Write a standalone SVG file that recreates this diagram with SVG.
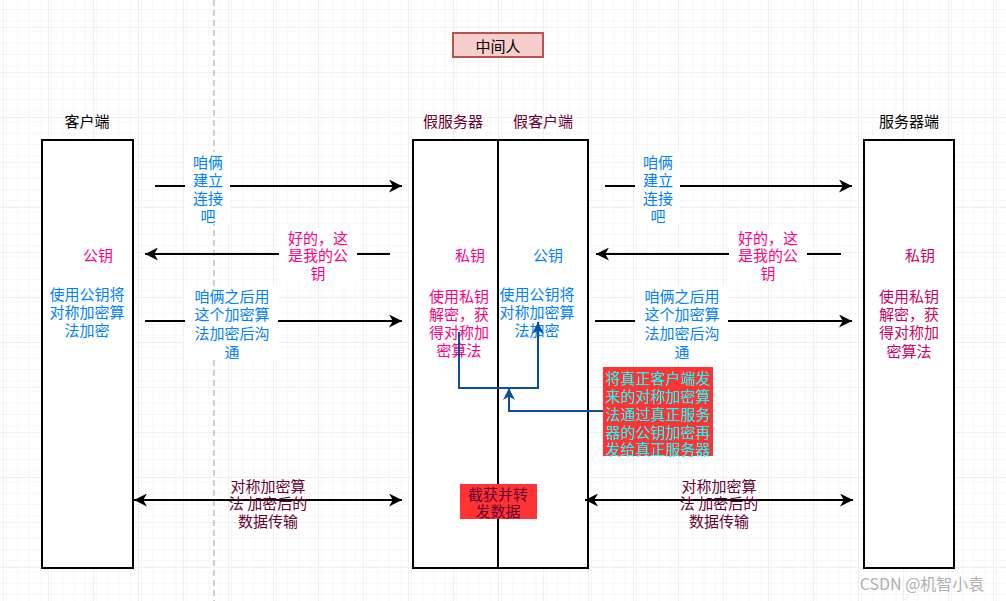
<svg xmlns="http://www.w3.org/2000/svg" width="1006" height="601" viewBox="0 0 1006 601">
<defs>
<pattern id="minor" x="3" y="27" width="11.25" height="11.25" patternUnits="userSpaceOnUse">
<path d="M0,0 H11.25 M0,0 V11.25" fill="none" stroke="#f0f0f0" stroke-width="1"/>
</pattern>
<pattern id="major" x="3" y="27" width="45" height="45" patternUnits="userSpaceOnUse">
<rect width="45" height="45" fill="url(#minor)"/>
<path d="M0,0 H45 M0,0 V45" fill="none" stroke="#e0e0e0" stroke-width="1"/>
</pattern>
<marker id="ah" viewBox="0 0 12 12" refX="12" refY="6" markerWidth="13" markerHeight="13" markerUnits="userSpaceOnUse" orient="auto-start-reverse">
<path d="M0,0 L12,6 L0,12 L3.5,6 Z" fill="#000"/>
</marker>
<marker id="bh" viewBox="0 0 12 12" refX="12" refY="6" markerWidth="12" markerHeight="12" markerUnits="userSpaceOnUse" orient="auto">
<path d="M0,0 L12,6 L0,12 L3.5,6 Z" fill="#0b4f9c"/>
</marker>
</defs>
<style>
text{font-family:"Noto Sans CJK SC","Noto Sans",sans-serif;font-size:15px;text-anchor:middle;dominant-baseline:central}
.box{fill:#fff;stroke:#000;stroke-width:2}
.blk{fill:#000}
.blue{fill:#007fff}
.pink{fill:#ff0080}
.pink2{fill:#cc0066}
.mar{fill:#660033}
.cyan{fill:#00ffff}
.edge{fill:none;stroke:#000;stroke-width:2}
.bedge{fill:none;stroke:#0b4f9c;stroke-width:2}
.lbg{fill:#fff}
</style>
<rect width="1006" height="601" fill="#fff"/>
<rect width="1006" height="601" fill="url(#major)"/>
<line x1="214" y1="0" x2="214" y2="601" stroke="#cfcfcf" stroke-width="2" stroke-dasharray="6,4"/>

<g id="middleman">
<rect x="453" y="33" width="90" height="24" fill="#f8cecc" stroke="#b85450" stroke-width="2"/>
<text x="498" y="45" class="blk">中间人</text>
</g>

<g id="client">
<text x="87" y="120" class="blk">客户端</text>
<rect x="42" y="140" width="91" height="428" class="box"/>
<text x="98" y="254" class="pink">公钥</text>
<text class="blue"><tspan x="87" y="293">使用公钥将</tspan><tspan x="87" y="311">对称加密算</tspan><tspan x="87" y="329">法加密</tspan></text>
</g>

<g id="fakeServer">
<text x="453" y="120" class="mar">假服务器</text>
<rect x="413" y="140" width="85" height="428" class="box"/>
<text x="470" y="254" class="pink">私钥</text>
<text class="pink"><tspan x="459" y="295">使用私钥</tspan><tspan x="459" y="313">解密，获</tspan><tspan x="459" y="331">得对称加</tspan><tspan x="459" y="349">密算法</tspan></text>
</g>

<g id="fakeClient">
<text x="543" y="120" class="mar">假客户端</text>
<rect x="498" y="140" width="90" height="428" class="box"/>
<text x="548" y="254" class="blue">公钥</text>
<text class="blue"><tspan x="537" y="293">使用公钥将</tspan><tspan x="537" y="311">对称加密算</tspan><tspan x="537" y="329">法加密</tspan></text>
</g>

<g id="server">
<text x="909" y="120" class="blk">服务器端</text>
<rect x="864" y="140" width="90" height="428" class="box"/>
<text x="920" y="254" class="pink2">私钥</text>
<text class="pink2"><tspan x="909" y="295">使用私钥</tspan><tspan x="909" y="313">解密，获</tspan><tspan x="909" y="331">得对称加</tspan><tspan x="909" y="350">密算法</tspan></text>
</g>

<g id="note">
<rect x="603" y="367" width="110" height="89" fill="#ff3333"/>
<text class="cyan"><tspan x="658" y="377">将真正客户端发</tspan><tspan x="658" y="395">来的对称加密算</tspan><tspan x="658" y="413">法通过真正服务</tspan><tspan x="658" y="431">器的公钥加密再</tspan><tspan x="658" y="448">发给真正服务器</tspan></text>
</g>

<g id="intercept">
<rect x="460" y="484" width="77" height="35" fill="#ff3333"/>
<text class="mar"><tspan x="498" y="493">截获并转</tspan><tspan x="498" y="510">发数据</tspan></text>
</g>

<g id="connectors">
<!-- handshake -->
<line x1="155" y1="186" x2="402" y2="186" class="edge" marker-end="url(#ah)"/>
<rect x="185" y="152" width="45" height="72" class="lbg"/>
<text class="blue"><tspan x="208" y="161">咱俩</tspan><tspan x="208" y="179">建立</tspan><tspan x="208" y="197">连接</tspan><tspan x="208" y="215">吧</tspan></text>

<line x1="605" y1="186" x2="852" y2="186" class="edge" marker-end="url(#ah)"/>
<rect x="635" y="152" width="45" height="72" class="lbg"/>
<text class="blue"><tspan x="658" y="161">咱俩</tspan><tspan x="658" y="179">建立</tspan><tspan x="658" y="197">连接</tspan><tspan x="658" y="215">吧</tspan></text>

<!-- public key -->
<line x1="390" y1="254" x2="145" y2="254" class="edge" marker-end="url(#ah)"/>
<rect x="279" y="228" width="78" height="54" class="lbg"/>
<text class="pink"><tspan x="318" y="237">好的，这</tspan><tspan x="318" y="254">是我的公</tspan><tspan x="318" y="272">钥</tspan></text>

<line x1="841" y1="254" x2="596" y2="254" class="edge" marker-end="url(#ah)"/>
<rect x="729" y="228" width="78" height="54" class="lbg"/>
<text class="pink"><tspan x="768" y="237">好的，这</tspan><tspan x="768" y="254">是我的公</tspan><tspan x="768" y="272">钥</tspan></text>

<!-- symmetric key -->
<line x1="145" y1="321" x2="402" y2="321" class="edge" marker-end="url(#ah)"/>
<rect x="185" y="286" width="93" height="74" class="lbg"/>
<text class="blue"><tspan x="232" y="295">咱俩之后用</tspan><tspan x="232" y="313">这个加密算</tspan><tspan x="232" y="332">法加密后沟</tspan><tspan x="232" y="351">通</tspan></text>

<line x1="595" y1="321" x2="852" y2="321" class="edge" marker-end="url(#ah)"/>
<rect x="635" y="286" width="93" height="74" class="lbg"/>
<text class="blue"><tspan x="682" y="295">咱俩之后用</tspan><tspan x="682" y="313">这个加密算</tspan><tspan x="682" y="332">法加密后沟</tspan><tspan x="682" y="351">通</tspan></text>

<!-- data transfer -->
<line x1="134" y1="500" x2="402" y2="500" class="edge" marker-start="url(#ah)" marker-end="url(#ah)"/>
<text class="mar"><tspan x="268" y="485">对称加密算</tspan><tspan x="268" y="502">法 加密后的</tspan><tspan x="268" y="520">数据传输</tspan></text>

<line x1="585" y1="500" x2="853" y2="500" class="edge" marker-start="url(#ah)" marker-end="url(#ah)"/>
<text class="mar"><tspan x="719" y="485">对称加密算</tspan><tspan x="719" y="502">法 加密后的</tspan><tspan x="719" y="520">数据传输</tspan></text>

<!-- blue internal edges -->
<path d="M603,411 H509 V388" class="bedge" marker-end="url(#bh)"/>
<path d="M459,332 V388 H538 V322" class="bedge" marker-end="url(#bh)"/>
</g>

<text x="922" y="583" style="fill:#b0b0b0;font-size:16px">CSDN @机智小袁</text>
</svg>
